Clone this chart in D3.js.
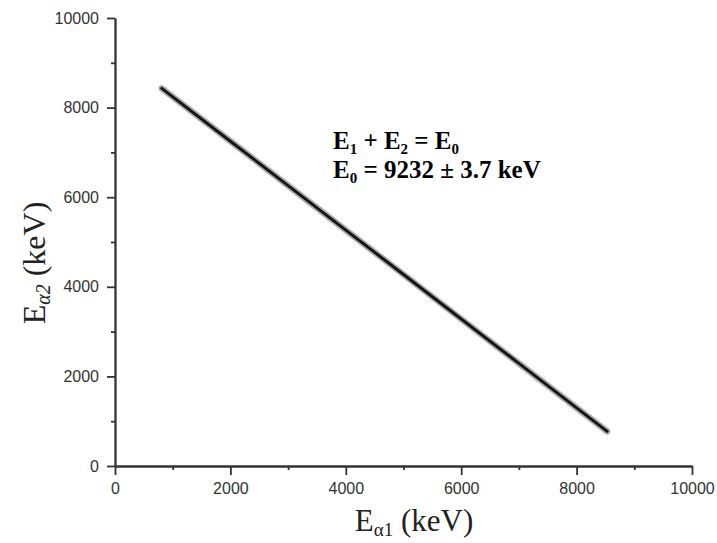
<!DOCTYPE html>
<html>
<head>
<meta charset="utf-8">
<script src="https://cdn.jsdelivr.net/npm/d3@7"></script>
<style>
  html, body { margin: 0; padding: 0; background: #fff; }
  svg { display: block; }
</style>
</head>
<body>
<svg id="chart" width="717" height="543"></svg>
<script>
// ---- data ----
const e1Values = [810, 2000, 3000, 4000, 5000, 6000, 7000, 8000, 8530];   // E_alpha1 (keV)
const e2Values = [8430, 7250, 6258, 5266, 4274, 3282, 2290, 1298, 772];   // E_alpha2 (keV)
const majorTicks = [0, 2000, 4000, 6000, 8000, 10000];
const minorTicks = [1000, 3000, 5000, 7000, 9000];
const axisDomain = [0, 10000];

const svg = d3.select("#chart");
const plotLeft = 115, plotRight = 692, plotTop = 18, plotBottom = 466;

const x = d3.scaleLinear().domain(axisDomain).range([plotLeft, plotRight]);
const y = d3.scaleLinear().domain(axisDomain).range([plotBottom, plotTop]);

const axisColor = "#333";
const tickFont = "'Liberation Sans', Arial, sans-serif";

function styleAxis(g) {
  g.selectAll("path.domain").attr("stroke", axisColor).attr("stroke-width", 1.8);
  g.selectAll(".tick line").attr("stroke", axisColor).attr("stroke-width", 1.8);
  g.selectAll(".tick text").attr("fill", "#333").style("font-family", tickFont).style("font-size", "16px");
}

// minor ticks
svg.append("g").attr("transform", `translate(0,${plotBottom})`)
  .call(d3.axisBottom(x).tickValues(minorTicks).tickSize(4).tickSizeOuter(0).tickFormat(""))
  .call(styleAxis);
svg.append("g").attr("transform", `translate(${plotLeft},0)`)
  .call(d3.axisLeft(y).tickValues(minorTicks).tickSize(4).tickSizeOuter(0).tickFormat(""))
  .call(styleAxis);

// major ticks
svg.append("g").attr("transform", `translate(0,${plotBottom})`)
  .call(d3.axisBottom(x).tickValues(majorTicks).tickSize(9).tickPadding(8).tickSizeOuter(0).tickFormat(d3.format("d")))
  .call(styleAxis);
svg.append("g").attr("transform", `translate(${plotLeft},0)`)
  .call(d3.axisLeft(y).tickValues(majorTicks).tickSize(8).tickPadding(8).tickSizeOuter(0).tickFormat(d3.format("d")))
  .call(styleAxis);

// data line (dense scatter appearance)
const pts = e1Values.map((v, i) => [v, e2Values[i]]);
const line = d3.line().x(d => x(d[0])).y(d => y(d[1]));
svg.append("path").datum(pts).attr("d", line)
  .attr("fill", "none").attr("stroke", "#6a6a6a").attr("stroke-width", 6.5)
  .attr("stroke-opacity", 0.55).attr("stroke-linecap", "round");
svg.append("path").datum(pts).attr("d", line)
  .attr("fill", "none").attr("stroke", "#151515").attr("stroke-width", 3)
  .attr("stroke-linecap", "round");

// annotation
const serif = "'Liberation Serif', 'Times New Roman', serif";
const ann = svg.append("g").style("font-family", serif).style("font-weight", "bold").style("font-size", "25px").attr("fill", "#000");
const l1 = ann.append("text").attr("x", 333).attr("y", 149);
l1.append("tspan").text("E");
l1.append("tspan").attr("font-size", "15px").attr("dy", 5).text("1");
l1.append("tspan").attr("dy", -5).text(" + E");
l1.append("tspan").attr("font-size", "15px").attr("dy", 5).text("2");
l1.append("tspan").attr("dy", -5).text(" = E");
l1.append("tspan").attr("font-size", "15px").attr("dy", 5).text("0");
const l2 = ann.append("text").attr("x", 333).attr("y", 178);
l2.append("tspan").text("E");
l2.append("tspan").attr("font-size", "15px").attr("dy", 5).text("0");
l2.append("tspan").attr("dy", -5).text(" = 9232 ± 3.7 keV");

// axis titles
const xt = svg.append("text").attr("x", 414).attr("y", 531).attr("text-anchor", "middle")
  .style("font-family", serif).style("font-size", "31px").attr("fill", "#222");
xt.append("tspan").text("E");
xt.append("tspan").attr("font-size", "19px").attr("dy", 5).text("α1");
xt.append("tspan").attr("dy", -5).text(" (keV)");

const yt = svg.append("text").attr("transform", "translate(45,263) rotate(-90)").attr("text-anchor", "middle")
  .style("font-family", serif).style("font-size", "32px").attr("fill", "#222");
yt.append("tspan").text("E");
yt.append("tspan").attr("font-size", "20px").attr("font-style", "italic").attr("dy", 5).text("α2");
yt.append("tspan").attr("dy", -5).text(" (keV)");
</script>
</body>
</html>
